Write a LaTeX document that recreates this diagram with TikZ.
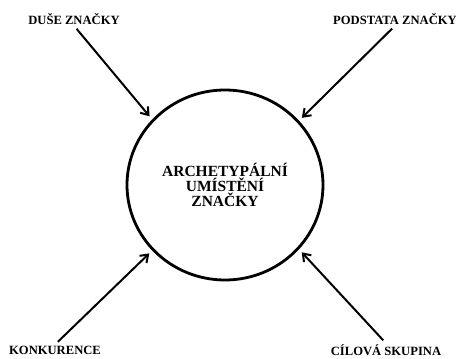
\documentclass[tikz,border=0pt]{standalone}
\usepackage{fontspec}
\setmainfont{Liberation Serif}
\usepackage{tikz}
\usetikzlibrary{arrows.meta,shapes.geometric}

\begin{document}
\begin{tikzpicture}[x=1pt,y=1pt,>={Straight Barb[length=7pt,width=10pt]},
  lbl/.style={font=\fontsize{12.6}{14}\selectfont\bfseries,inner sep=1pt},
  arr/.style={->,line width=2pt,shorten <=4pt,shorten >=4pt}]
\useasboundingbox (0,0) rectangle (456,359);
\node[ellipse,draw,line width=2.8pt,minimum width=196pt,minimum height=190pt,inner sep=0pt,
  align=center,font=\fontsize{15.5}{15}\selectfont\bfseries] (arch) at (225,174)
  {ARCHETYPÁLNÍ\\UMÍSTĚNÍ\\ZNAČKY};
\node[lbl] (duse) at (74,340) {DUŠE ZNAČKY};
\node[lbl] (podstata) at (395,340) {PODSTATA ZNAČKY};
\node[lbl] (konk) at (55,9) {KONKURENCE};
\node[lbl] (cilova) at (386,9) {CÍLOVÁ SKUPINA};
\draw[arr] (duse.south) -- (arch.138);
\draw[arr] (podstata.south) -- (arch.41);
\draw[arr] (konk.north) -- (arch.222);
\draw[arr] (cilova.north) -- (arch.319);
\end{tikzpicture}
\end{document}
